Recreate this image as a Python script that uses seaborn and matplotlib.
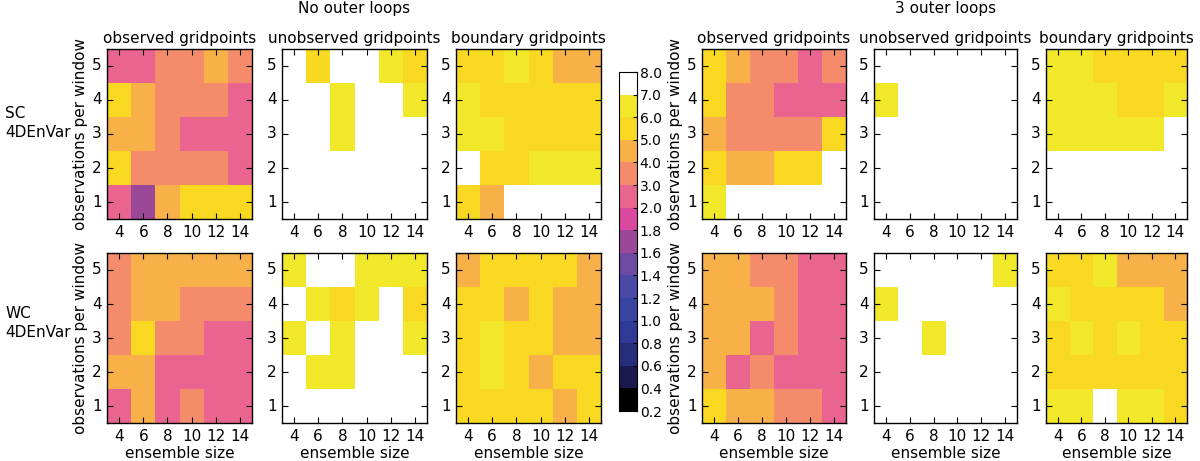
import numpy as np
import pandas as pd
import matplotlib
matplotlib.use("Agg")
import matplotlib.pyplot as plt
from matplotlib.colors import ListedColormap, BoundaryNorm
import seaborn as sns

# axes categories
ensemble_sizes = [4, 6, 8, 10, 12, 14]
obs_per_window = [5, 4, 3, 2, 1]   # top row first, as drawn

# colour levels of the colorbar
levels = [0.2, 0.4, 0.6, 0.8, 1.0, 1.2, 1.4, 1.6, 1.8, 2.0, 3.0, 4.0, 5.0, 6.0, 7.0, 8.0]
level_colors = ['#000000', '#1a1a4e', '#262e7c', '#2e3a96', '#3846a2', '#4a4aa6',
                '#6e4aa2', '#9c4898', '#dc48a0', '#ea6490', '#f48c6c', '#f8b048',
                '#f8d820', '#f2e82a', '#ffffff']

row_names = ['SC\n4DEnVar', 'WC\n4DEnVar']
group_names = ['No outer loops', '3 outer loops']
panel_names = ['observed gridpoints', 'unobserved gridpoints', 'boundary gridpoints']

# values (rows: obs 5 -> 1, cols: ensemble 4 -> 14)
sc_none_obs = [[2.5, 2.5, 3.5, 3.5, 4.5, 3.5],
               [5.5, 4.5, 3.5, 3.5, 3.5, 2.5],
               [4.5, 4.5, 3.5, 2.5, 2.5, 2.5],
               [5.5, 3.5, 3.5, 3.5, 3.5, 2.5],
               [2.5, 1.7, 4.5, 5.5, 5.5, 5.5]]
sc_none_unobs = [[7.5, 5.5, 7.5, 7.5, 6.5, 5.5],
                 [7.5, 7.5, 6.5, 7.5, 7.5, 6.5],
                 [7.5, 7.5, 6.5, 7.5, 7.5, 7.5],
                 [7.5, 7.5, 7.5, 7.5, 7.5, 7.5],
                 [7.5, 7.5, 7.5, 7.5, 7.5, 7.5]]
sc_none_bnd = [[5.5, 5.5, 6.5, 5.5, 4.5, 4.5],
               [6.5, 5.5, 5.5, 5.5, 5.5, 5.5],
               [6.5, 6.5, 5.5, 5.5, 5.5, 5.5],
               [7.5, 5.5, 5.5, 6.5, 6.5, 6.5],
               [5.5, 4.5, 7.5, 7.5, 7.5, 7.5]]
sc_loop_obs = [[5.5, 4.5, 3.5, 3.5, 2.5, 3.5],
               [5.5, 3.5, 3.5, 2.5, 2.5, 2.5],
               [4.5, 3.5, 3.5, 3.5, 3.5, 5.5],
               [5.5, 4.5, 4.5, 5.5, 5.5, 7.5],
               [6.5, 7.5, 7.5, 7.5, 7.5, 7.5]]
sc_loop_unobs = [[7.5, 7.5, 7.5, 7.5, 7.5, 7.5],
                 [6.5, 7.5, 7.5, 7.5, 7.5, 7.5],
                 [7.5, 7.5, 7.5, 7.5, 7.5, 7.5],
                 [7.5, 7.5, 7.5, 7.5, 7.5, 7.5],
                 [7.5, 7.5, 7.5, 7.5, 7.5, 7.5]]
sc_loop_bnd = [[6.5, 6.5, 5.5, 5.5, 5.5, 5.5],
               [6.5, 6.5, 6.5, 5.5, 5.5, 6.5],
               [6.5, 6.5, 6.5, 6.5, 6.5, 7.5],
               [7.5, 7.5, 7.5, 7.5, 7.5, 7.5],
               [7.5, 7.5, 7.5, 7.5, 7.5, 7.5]]

wc_none_obs = [[3.5, 4.5, 4.5, 4.5, 4.5, 4.5],
               [3.5, 4.5, 4.5, 3.5, 3.5, 3.5],
               [3.5, 5.5, 3.5, 3.5, 2.5, 2.5],
               [4.5, 4.5, 2.5, 2.5, 2.5, 2.5],
               [2.5, 4.5, 2.5, 3.5, 2.5, 2.5]]
wc_none_unobs = [[6.5, 7.5, 7.5, 6.5, 6.5, 6.5],
                 [7.5, 6.5, 5.5, 6.5, 7.5, 5.5],
                 [6.5, 7.5, 6.5, 7.5, 7.5, 6.5],
                 [7.5, 6.5, 6.5, 7.5, 7.5, 7.5],
                 [7.5, 7.5, 7.5, 7.5, 7.5, 7.5]]
wc_none_bnd = [[4.5, 5.5, 5.5, 5.5, 5.5, 4.5],
               [5.5, 5.5, 4.5, 5.5, 4.5, 4.5],
               [5.5, 6.5, 5.5, 5.5, 4.5, 4.5],
               [5.5, 6.5, 5.5, 4.5, 5.5, 5.5],
               [5.5, 5.5, 5.5, 5.5, 4.5, 5.5]]
wc_loop_obs = [[4.5, 4.5, 3.5, 3.5, 2.5, 2.5],
               [4.5, 4.5, 4.5, 3.5, 2.5, 2.5],
               [4.5, 4.5, 2.5, 3.5, 2.5, 2.5],
               [4.5, 2.5, 3.5, 2.5, 2.5, 2.5],
               [5.5, 4.5, 4.5, 3.5, 3.5, 2.5]]
wc_loop_unobs = [[7.5, 7.5, 7.5, 7.5, 7.5, 6.5],
                 [6.5, 7.5, 7.5, 7.5, 7.5, 7.5],
                 [7.5, 7.5, 6.5, 7.5, 7.5, 7.5],
                 [7.5, 7.5, 7.5, 7.5, 7.5, 7.5],
                 [7.5, 7.5, 7.5, 7.5, 7.5, 7.5]]
wc_loop_bnd = [[5.5, 5.5, 6.5, 4.5, 4.5, 4.5],
               [6.5, 5.5, 5.5, 5.5, 5.5, 4.5],
               [5.5, 6.5, 5.5, 6.5, 5.5, 5.5],
               [5.5, 5.5, 5.5, 5.5, 5.5, 5.5],
               [6.5, 6.5, 7.5, 6.5, 6.5, 5.5]]

panels = [[sc_none_obs, sc_none_unobs, sc_none_bnd, sc_loop_obs, sc_loop_unobs, sc_loop_bnd],
          [wc_none_obs, wc_none_unobs, wc_none_bnd, wc_loop_obs, wc_loop_unobs, wc_loop_bnd]]

cmap = ListedColormap(level_colors)
norm = BoundaryNorm(levels, cmap.N)

W, H = 1200, 461
fig = plt.figure(figsize=(W / 100, H / 100), dpi=100)
plt.rcParams['font.family'] = ['DejaVu Sans']
fs = 11

# pixel geometry of the panels
col_x = [(107, 252), (282, 427), (456, 601), (702, 846), (874, 1017), (1046, 1187)]
row_y = [(49, 219), (253, 423)]

def px_axes(x0, x1, y0, y1):
    return fig.add_axes([x0 / W, 1 - y1 / H, (x1 - x0) / W, (y1 - y0) / H])

cax = px_axes(619, 637, 72, 411)

for r in range(2):
    for c in range(6):
        ax = px_axes(col_x[c][0], col_x[c][1], row_y[r][0], row_y[r][1])
        df = pd.DataFrame(panels[r][c], index=obs_per_window, columns=ensemble_sizes)
        first = (r == 0 and c == 0)
        sns.heatmap(df, ax=ax, cmap=cmap, norm=norm, cbar=first,
                    cbar_ax=cax if first else None)
        for s in ax.spines.values():
            s.set_visible(True)
            s.set_linewidth(1.0)
            s.set_color('black')
        ax.tick_params(axis='both', direction='in', top=True, right=True,
                       length=4, width=0.8, labelsize=fs, pad=4)
        ax.set_yticklabels(obs_per_window, rotation=0)
        ax.set_xticklabels(ensemble_sizes, rotation=0)
        if c in (0, 3):
            ax.set_ylabel('observations per window', fontsize=fs, labelpad=3)
        else:
            ax.set_ylabel('')
        if r == 1:
            ax.set_xlabel('ensemble size', fontsize=fs, labelpad=2)
        else:
            ax.set_xlabel('')
            ax.set_title(panel_names[c % 3], fontsize=fs, pad=4)
            if c % 3 == 1:
                ax.text(0.5, 1 + 41 / 170, group_names[c // 3], transform=ax.transAxes,
                        ha='center', va='center', fontsize=fs)

# colorbar
cax.set_yticks(levels)
cax.set_yticklabels(['%.1f' % v for v in levels])
cax.tick_params(labelsize=10, direction='in', length=3, pad=2)
for s in cax.spines.values():
    s.set_visible(True)
    s.set_color('black')

for r in range(2):
    yc = (123, 323)[r]
    fig.text(5 / W, 1 - yc / H, row_names[r], ha='left', va='center', fontsize=fs,
             linespacing=1.3)

fig.savefig('out.png', dpi=100)
